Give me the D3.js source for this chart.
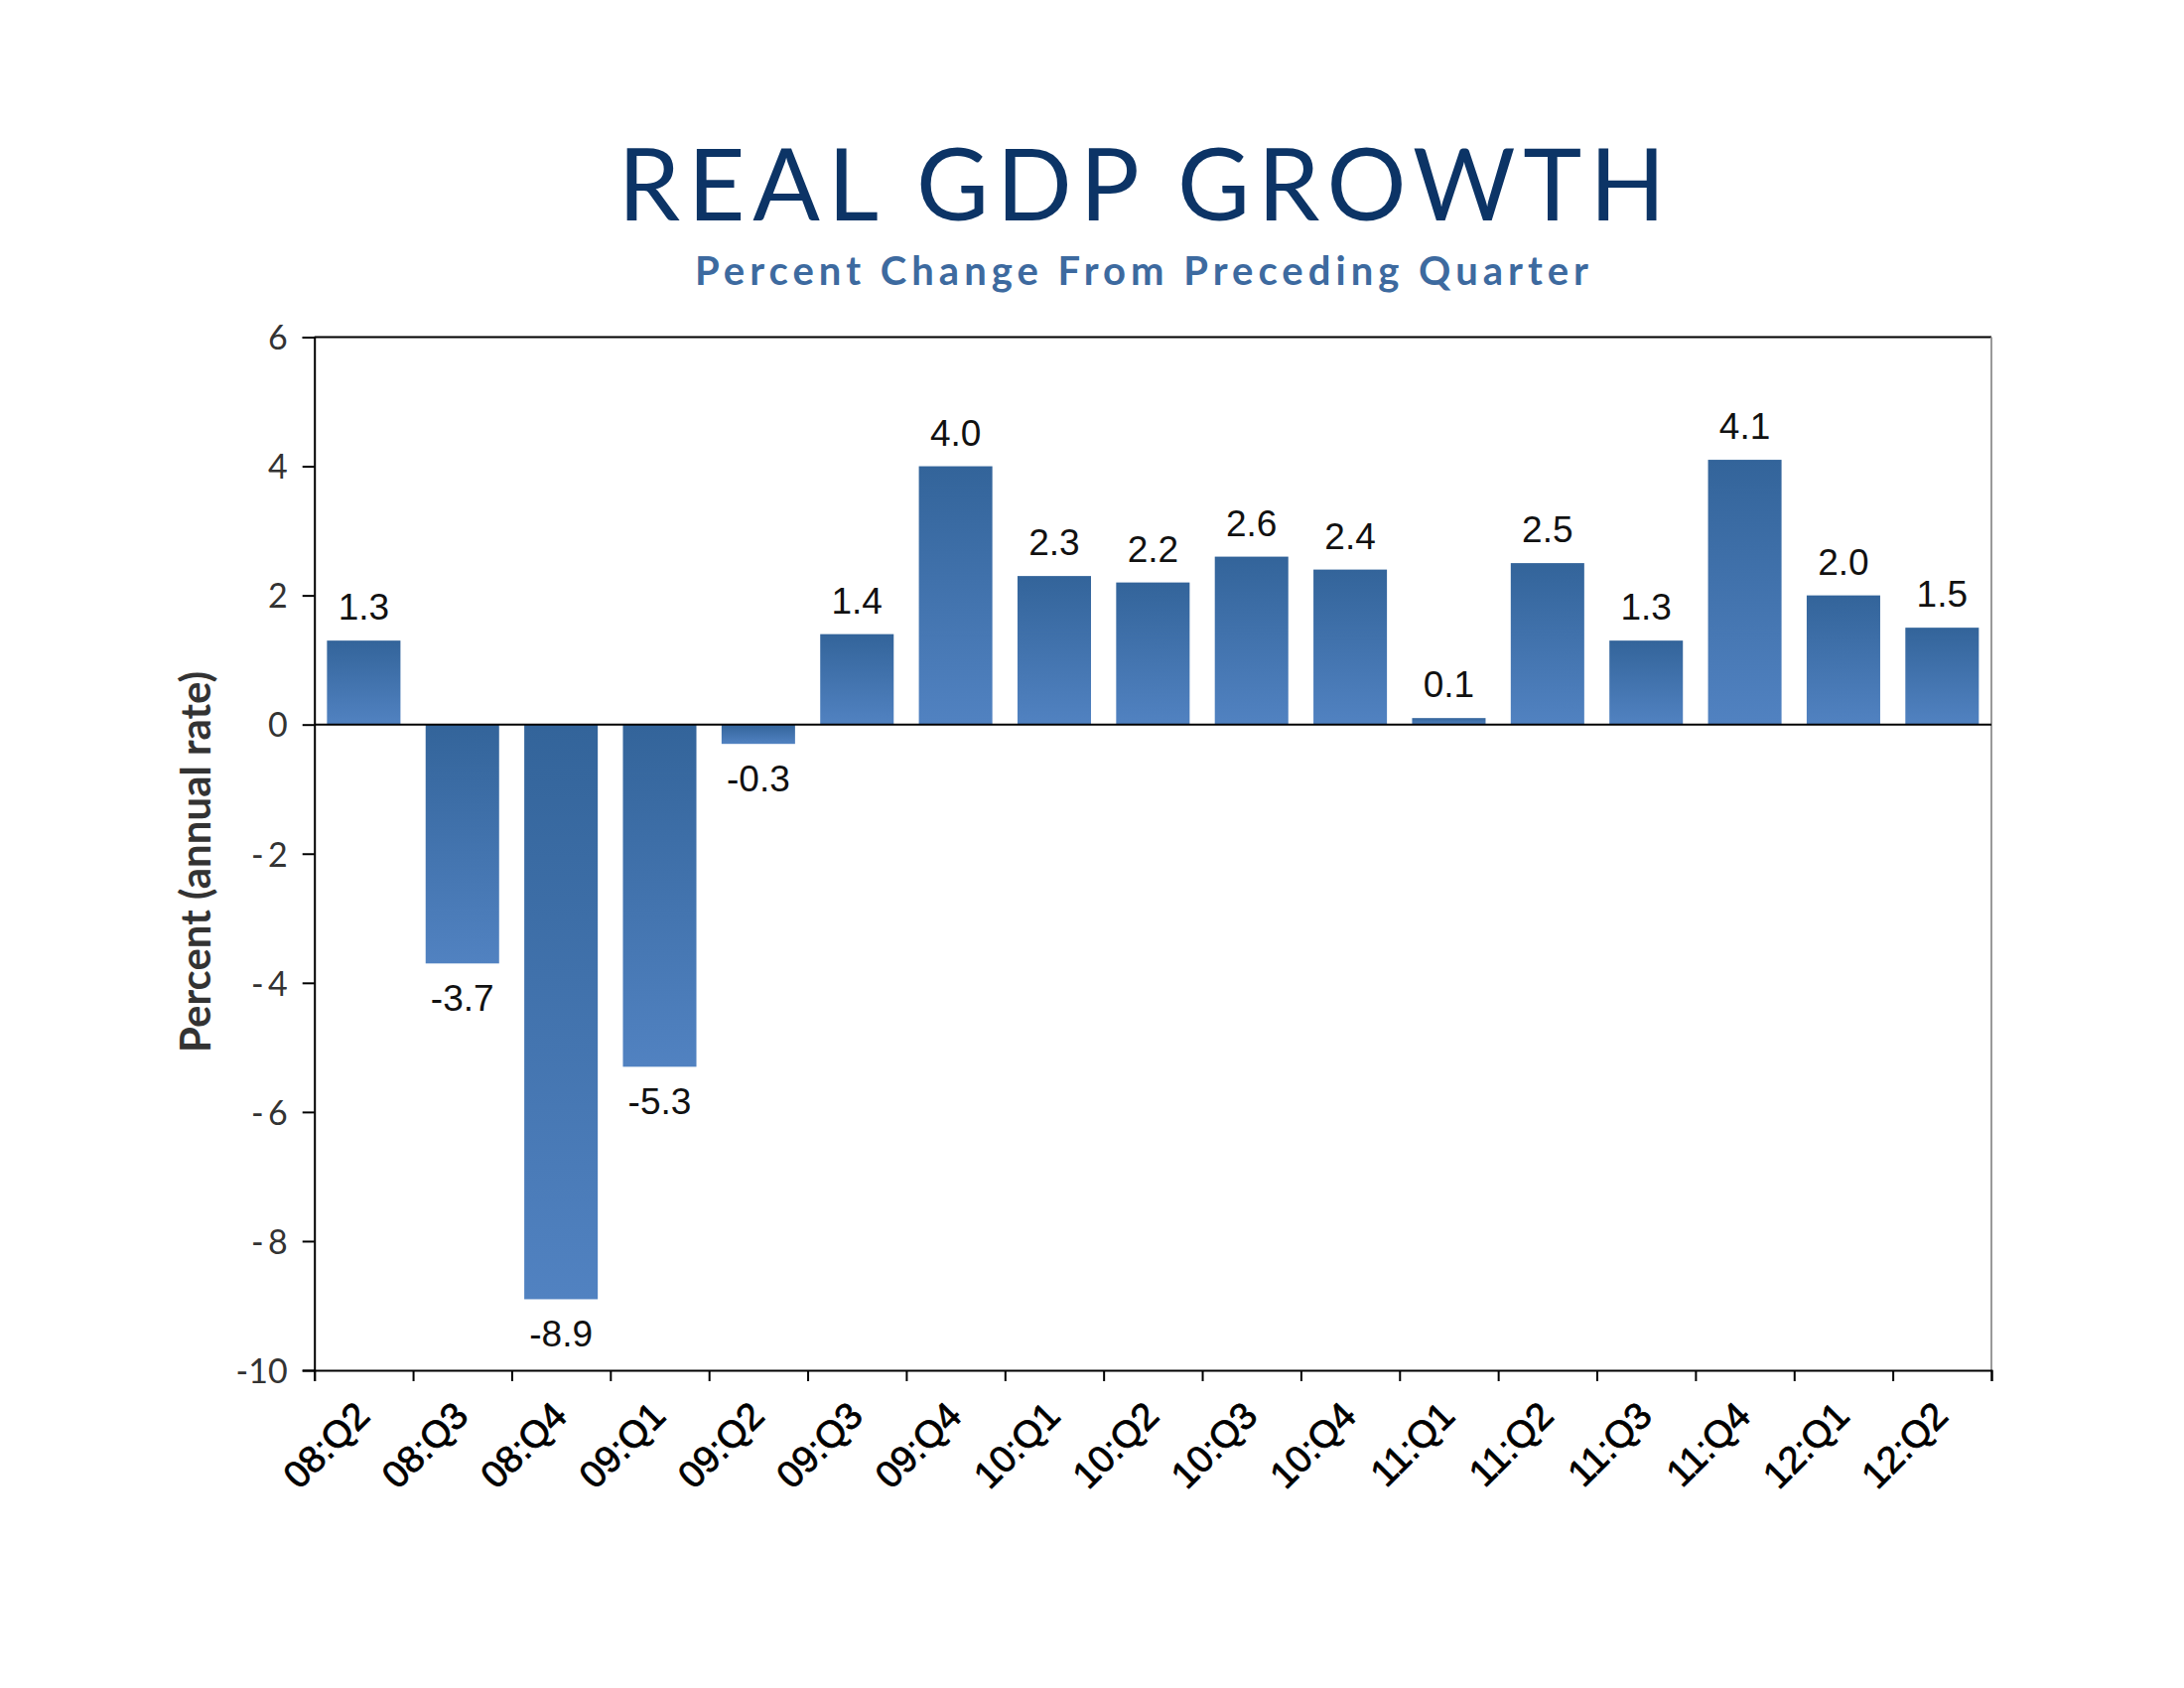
<!DOCTYPE html>
<html>
<head>
<meta charset="utf-8">
<script src="https://cdn.jsdelivr.net/npm/d3@7"></script>
<style>
  html, body { margin: 0; padding: 0; background: #ffffff; }
  svg { display: block; }
</style>
</head>
<body>
<svg id="chart" width="2200" height="1700"></svg>
<script>
// ---- data ----
const quarters = ["08:Q2","08:Q3","08:Q4","09:Q1","09:Q2","09:Q3","09:Q4","10:Q1","10:Q2","10:Q3","10:Q4","11:Q1","11:Q2","11:Q3","11:Q4","12:Q1","12:Q2"];
const growth = [1.3, -3.7, -8.9, -5.3, -0.3, 1.4, 4.0, 2.3, 2.2, 2.6, 2.4, 0.1, 2.5, 1.3, 4.1, 2.0, 1.5];
const yTicks = [-10, -8, -6, -4, -2, 0, 2, 4, 6];
const titleText = "REAL GDP GROWTH";
const subtitleText = "Percent Change From Preceding Quarter";
const yAxisTitle = "Percent (annual rate)";

// ---- layout ----
const W = 2200, H = 1700;
const plotLeft = 316.7, plotRight = 2006, plotTop = 339.5, plotBottom = 1380;

const svg = d3.select("#chart");
svg.append("rect").attr("width", W).attr("height", H).attr("fill", "#ffffff");

const defs = svg.append("defs");
const grad = defs.append("linearGradient").attr("id", "barGrad")
  .attr("x1", 0).attr("y1", 0).attr("x2", 0).attr("y2", 1);
grad.append("stop").attr("offset", "0%").attr("stop-color", "#33649a");
grad.append("stop").attr("offset", "100%").attr("stop-color", "#5182c1");

const data = quarters.map((q, i) => ({ q, v: growth[i] }));

const x = d3.scaleBand().domain(quarters).range([plotLeft, plotRight])
  .paddingInner(0.255).paddingOuter(0.1275);
const y = d3.scaleLinear().domain([-10, 6]).range([plotBottom, plotTop]);
const xb = d3.scaleLinear().domain([0, quarters.length]).range([plotLeft, plotRight]);

// titles
svg.append("text")
  .attr("x", 1150).attr("y", 222)
  .attr("text-anchor", "middle")
  .attr("font-family", "Lato, 'Open Sans', sans-serif")
  .attr("font-size", 100)
  .attr("fill", "#0c3466")
  .attr("textLength", 1055).attr("lengthAdjust", "spacing")
  .text(titleText);

svg.append("text")
  .attr("x", 1150).attr("y", 287)
  .attr("text-anchor", "middle")
  .attr("font-family", "Lato, 'Open Sans', sans-serif")
  .attr("font-weight", "bold")
  .attr("font-size", 40)
  .attr("fill", "#3d6a9f")
  .attr("textLength", 900).attr("lengthAdjust", "spacing")
  .text(subtitleText);

// bars
svg.append("g").selectAll("rect").data(data).join("rect")
  .attr("x", d => x(d.q))
  .attr("width", x.bandwidth())
  .attr("y", d => y(Math.max(0, d.v)))
  .attr("height", d => Math.abs(y(d.v) - y(0)))
  .attr("fill", "url(#barGrad)");

// value labels
svg.append("g").selectAll("text").data(data).join("text")
  .attr("x", d => x(d.q) + x.bandwidth() / 2)
  .attr("y", d => d.v >= 0 ? y(d.v) - 21 : y(d.v) + 48)
  .attr("text-anchor", "middle")
  .attr("font-family", "'Liberation Sans', Arial, sans-serif")
  .attr("font-size", 37)
  .attr("fill", "#111")
  .text(d => d.v.toFixed(1));

// frame: top (black) and right (gray)
svg.append("line").attr("x1", plotLeft).attr("x2", plotRight).attr("y1", plotTop).attr("y2", plotTop)
  .attr("stroke", "#000").attr("stroke-width", 2);
svg.append("line").attr("x1", plotRight).attr("x2", plotRight).attr("y1", plotTop).attr("y2", plotBottom)
  .attr("stroke", "#999").attr("stroke-width", 2);

// zero line
svg.append("line").attr("x1", plotLeft).attr("x2", plotRight).attr("y1", y(0)).attr("y2", y(0))
  .attr("stroke", "#000").attr("stroke-width", 2);

// y axis
const yAxis = d3.axisLeft(y).tickValues(yTicks).tickSize(12).tickPadding(15)
  .tickFormat(d => d < 0 && d > -10 ? "-\u2009" + Math.abs(d) : String(d));
const gy = svg.append("g").attr("transform", `translate(${plotLeft},0)`).call(yAxis);
gy.select(".domain").attr("stroke", "#000").attr("stroke-width", 2);
gy.selectAll(".tick line").attr("stroke", "#000").attr("stroke-width", 2);
gy.selectAll(".tick text")
  .attr("font-family", "Lato, 'Open Sans', sans-serif")
  .attr("font-size", 34)
  .attr("fill", "#333")
  .attr("dy", "0.36em");

// x axis boundary ticks
const xTickAxis = d3.axisBottom(xb).tickValues(d3.range(0, quarters.length + 1))
  .tickSize(11).tickFormat("");
const gxb = svg.append("g").attr("transform", `translate(0,${plotBottom})`).call(xTickAxis);
gxb.select(".domain").attr("stroke", "#000").attr("stroke-width", 2);
gxb.selectAll(".tick line").attr("stroke", "#000").attr("stroke-width", 2);

// x axis category labels
const xAxis = d3.axisBottom(x).tickSize(0).tickPadding(0);
const gx = svg.append("g").attr("transform", `translate(0,${plotBottom})`).call(xAxis);
gx.select(".domain").remove();
gx.selectAll(".tick text")
  .attr("x", 0).attr("y", 0).attr("dy", 0)
  .attr("transform", "translate(8,48) rotate(-45)")
  .attr("text-anchor", "end")
  .attr("font-family", "'Liberation Sans', Arial, sans-serif")
  .attr("font-size", 38)
  .attr("fill", "#000")
  .attr("stroke", "#000").attr("stroke-width", 0.8);

// y axis title
svg.append("text")
  .attr("transform", "translate(212,868) rotate(-90)")
  .attr("text-anchor", "middle")
  .attr("font-family", "Lato, 'Open Sans', sans-serif")
  .attr("font-weight", "bold")
  .attr("font-size", 42)
  .attr("fill", "#333")
  .text(yAxisTitle);
</script>
</body>
</html>
